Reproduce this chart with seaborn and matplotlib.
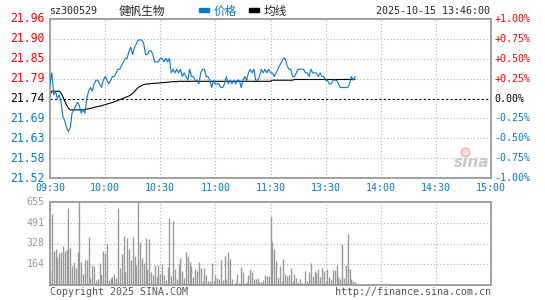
import matplotlib
matplotlib.use("Agg")
import matplotlib.pyplot as plt
import pandas as pd
import seaborn as sns

# data (one value per minute, 09:30 .. 13:46)
PREV_CLOSE = 21.74

price = [
    21.78, 21.81, 21.75, 21.76, 21.74, 21.75, 21.73, 21.69, 21.68, 21.66,
    21.65, 21.66, 21.70, 21.71, 21.72, 21.73, 21.72, 21.70, 21.71, 21.70,
    21.74, 21.76, 21.77, 21.76, 21.78, 21.79, 21.79, 21.78, 21.77, 21.79,
    21.80, 21.79, 21.78, 21.79, 21.80, 21.80, 21.81, 21.82, 21.82, 21.83,
    21.84, 21.85, 21.85, 21.87, 21.88, 21.86, 21.88, 21.89, 21.90, 21.90,
    21.90, 21.89, 21.86, 21.86, 21.87, 21.87, 21.86, 21.84, 21.84, 21.84,
    21.85, 21.85, 21.84, 21.85, 21.84, 21.85, 21.81, 21.82, 21.81, 21.82,
    21.81, 21.82, 21.80, 21.81, 21.80, 21.79, 21.82, 21.80, 21.80, 21.79,
    21.79, 21.78, 21.81, 21.82, 21.82, 21.80, 21.80, 21.79, 21.77, 21.79,
    21.78, 21.78, 21.78, 21.77, 21.77, 21.78, 21.80, 21.78, 21.79, 21.78,
    21.79, 21.78, 21.79, 21.79, 21.77, 21.79, 21.80, 21.79, 21.81, 21.82,
    21.81, 21.82, 21.79, 21.79, 21.80, 21.82, 21.81, 21.82, 21.81, 21.82,
    21.81, 21.81, 21.80, 21.81, 21.82, 21.83, 21.84, 21.85, 21.85, 21.83,
    21.82, 21.82, 21.80, 21.80, 21.81, 21.82, 21.82, 21.82, 21.82, 21.81,
    21.81, 21.80, 21.82, 21.81, 21.81, 21.81, 21.80, 21.81, 21.80, 21.80,
    21.79, 21.79, 21.78, 21.78, 21.79, 21.79, 21.79, 21.78, 21.77, 21.77,
    21.77, 21.77, 21.77, 21.78, 21.80, 21.79, 21.80,
]

avg_price = [
    21.750, 21.760, 21.760, 21.760, 21.760, 21.760, 21.755, 21.745, 21.733, 21.722,
    21.714, 21.709, 21.709, 21.709, 21.709, 21.709, 21.709, 21.709, 21.709, 21.710,
    21.711, 21.712, 21.713, 21.714, 21.716, 21.717, 21.718, 21.719, 21.720, 21.722,
    21.723, 21.725, 21.726, 21.728, 21.729, 21.731, 21.733, 21.735, 21.737, 21.739,
    21.741, 21.743, 21.745, 21.747, 21.750, 21.754, 21.759, 21.765, 21.770, 21.773,
    21.776, 21.778, 21.779, 21.780, 21.780, 21.781, 21.781, 21.782, 21.782, 21.782,
    21.783, 21.783, 21.784, 21.784, 21.785, 21.785, 21.786, 21.786, 21.786, 21.786,
    21.787, 21.787, 21.787, 21.787, 21.787, 21.787, 21.787, 21.787, 21.787, 21.787,
    21.787, 21.787, 21.787, 21.787, 21.787, 21.787, 21.787, 21.787, 21.787, 21.787,
    21.787, 21.787, 21.787, 21.787, 21.787, 21.787, 21.787, 21.787, 21.787, 21.787,
    21.787, 21.787, 21.787, 21.787, 21.787, 21.787, 21.787, 21.787, 21.787, 21.787,
    21.787, 21.787, 21.787, 21.787, 21.787, 21.787, 21.787, 21.787, 21.787, 21.787,
    21.787, 21.790, 21.790, 21.790, 21.790, 21.790, 21.790, 21.790, 21.790, 21.790,
    21.790, 21.790, 21.790, 21.792, 21.792, 21.792, 21.792, 21.792, 21.792, 21.792,
    21.792, 21.792, 21.792, 21.792, 21.792, 21.792, 21.792, 21.792, 21.792, 21.792,
    21.792, 21.792, 21.792, 21.792, 21.792, 21.792, 21.792, 21.792, 21.792, 21.792,
    21.792, 21.792, 21.792, 21.792, 21.792, 21.792, 21.792,
]

volume = [
    112, 558, 269, 284, 222, 253, 260, 308, 269, 277,
    611, 290, 150, 183, 136, 261, 700, 183, 89, 198,
    198, 378, 57, 154, 146, 42, 50, 175, 81, 269,
    253, 324, 42, 57, 65, 89, 57, 611, 136, 245,
    386, 104, 371, 284, 198, 378, 230, 160, 700, 339,
    214, 175, 371, 128, 363, 104, 81, 159, 65, 159,
    89, 167, 81, 42, 144, 527, 73, 504, 128, 50,
    167, 214, 112, 57, 261, 230, 183, 151, 65, 128,
    112, 183, 136, 34, 136, 81, 34, 34, 175, 34,
    81, 57, 50, 198, 42, 230, 50, 261, 206, 50,
    8, 26, 89, 18, 144, 104, 18, 26, 81, 128,
    104, 50, 50, 57, 26, 26, 42, 81, 73, 73,
    545, 339, 284, 190, 57, 151, 34, 206, 89, 73,
    81, 136, 34, 89, 57, 26, 50, 18, 18, 112,
    34, 104, 175, 73, 112, 96, 128, 65, 136, 112,
    26, 128, 65, 50, 120, 120, 159, 60, 45, 326,
    57, 159, 402, 128, 50, 34, 25,
]

time_labels = ["09:30", "10:00", "10:30", "11:00", "11:30", "13:30", "14:00", "14:30", "15:00"]
price_labels = ["21.96", "21.90", "21.85", "21.79", "21.74", "21.69", "21.63", "21.58", "21.52"]
pct_labels = ["+1.00%", "+0.75%", "+0.50%", "+0.25%", "0.00%", "-0.25%", "-0.50%", "-0.75%", "-1.00%"]
vol_labels = ["655", "491", "328", "164"]
VOL_MAX = 655

df = pd.DataFrame({"minute": range(len(price)), "price": price,
                   "avg": avg_price, "volume": volume})

BLUE = "#0a78c8"
RED = "#ff0000"
GRAY = "#999999"
GRID = "#b0b0b0"

sns.set_style("white")
plt.rcParams["font.family"] = ["DejaVu Sans Mono"]

W, H = 545, 300
fig = plt.figure(figsize=(W / 100, H / 100), dpi=100)


def fx(x):
    return x / W


def fy(y):
    return 1 - y / H


ax = fig.add_axes([fx(50), fy(178), fx(491) - fx(50), fy(19) - fy(178)])
axv = fig.add_axes([fx(50), fy(285), fx(491) - fx(50), fy(202) - fy(285)])

lo, hi = PREV_CLOSE * 0.99, PREV_CLOSE * 1.01
levels = [PREV_CLOSE * (1 + k * 0.0025) for k in range(4, -5, -1)]

for a in (ax, axv):
    a.set_xlim(0, 240)
    a.set_xticks([])
    a.set_yticks([])
    for s in a.spines.values():
        s.set_color(GRAY)
        s.set_linewidth(1.3)
    for t in range(30, 240, 30):
        a.axvline(t, color=GRID, lw=0.8, ls=(0, (1, 2)), zorder=0)

ax.set_ylim(lo, hi)
for k, lv in enumerate(levels[1:-1], start=1):
    if k == 4:
        ax.axhline(lv, color="black", lw=0.8, ls=(0, (2, 2)), zorder=1)
    else:
        ax.axhline(lv, color=GRID, lw=0.8, ls=(0, (1, 2)), zorder=0)

sns.lineplot(data=df, x="minute", y="price", ax=ax, color=BLUE, linewidth=0.8, zorder=3)
sns.lineplot(data=df, x="minute", y="avg", ax=ax, color="black", linewidth=0.8, zorder=2)
ax.set_xlabel("")
ax.set_ylabel("")

axv.set_ylim(0, VOL_MAX)
for k in range(1, 4):
    axv.axhline(VOL_MAX * k / 4, color=GRID, lw=0.8, ls=(0, (1, 2)), zorder=0)
axv.vlines(df["minute"], 0, df["volume"], color=GRAY, lw=1.0, zorder=2)

# price / percent labels
for i, lv in enumerate(levels):
    c = RED if i < 4 else ("black" if i == 4 else BLUE)
    ax.text(-0.012, (lv - lo) / (hi - lo), price_labels[i], transform=ax.transAxes,
            ha="right", va="center", color=c, fontsize=8.3)
    ax.text(1.007, (lv - lo) / (hi - lo), pct_labels[i], transform=ax.transAxes,
            ha="left", va="center", color=c, fontsize=7.2)

for i, lab in enumerate(time_labels):
    ax.text(i * 30 / 240, -0.06, lab, transform=ax.transAxes,
            ha="center", va="center", color=BLUE, fontsize=7.2)

for i, lab in enumerate(vol_labels):
    axv.text(-0.012, 1 - i / 4, lab, transform=axv.transAxes,
             ha="right", va="center", color=GRAY, fontsize=7.2)

# header row
fig.text(fx(49), fy(11), "sz300529", ha="left", va="center", fontsize=7.2)
fig.text(fx(119), fy(11), "健帆生物", ha="left", va="center", fontsize=8.4,
         family=["Noto Sans CJK SC", "DejaVu Sans"])
fig.add_artist(plt.Rectangle((fx(199), fy(11.5)), fx(10), 3 / H, color=BLUE,
                             transform=fig.transFigure))
fig.text(fx(214), fy(11), "价格", ha="left", va="center", fontsize=8.4, color=BLUE,
         family=["Noto Sans CJK SC", "DejaVu Sans"])
fig.add_artist(plt.Rectangle((fx(249), fy(11.5)), fx(10), 3 / H, color="black",
                             transform=fig.transFigure))
fig.text(fx(264), fy(11), "均线", ha="left", va="center", fontsize=8.4,
         family=["Noto Sans CJK SC", "DejaVu Sans"])
fig.text(fx(490), fy(11), "2025-10-15 13:46:00", ha="right", va="center", fontsize=7.2)

# footer
fig.text(fx(50), fy(292), "Copyright 2025 SINA.COM", ha="left", va="center",
         fontsize=7.2, color="#555555")
fig.text(fx(491), fy(292), "http://finance.sina.com.cn", ha="right", va="center",
         fontsize=7.2, color="#555555")

# watermark
ax.plot([0.94], [0.165], transform=ax.transAxes, marker="o", markersize=6,
        markerfacecolor="#fbe3e3", markeredgecolor="#f0b0b0", markeredgewidth=1.2, zorder=0)
ax.text(0.955, 0.095, "sina", transform=ax.transAxes, ha="center", va="center",
        fontsize=11, color="#c8c8c8", style="italic", weight="bold",
        family=["DejaVu Sans"], zorder=0)

fig.savefig("out.png", dpi=100, facecolor="white")
